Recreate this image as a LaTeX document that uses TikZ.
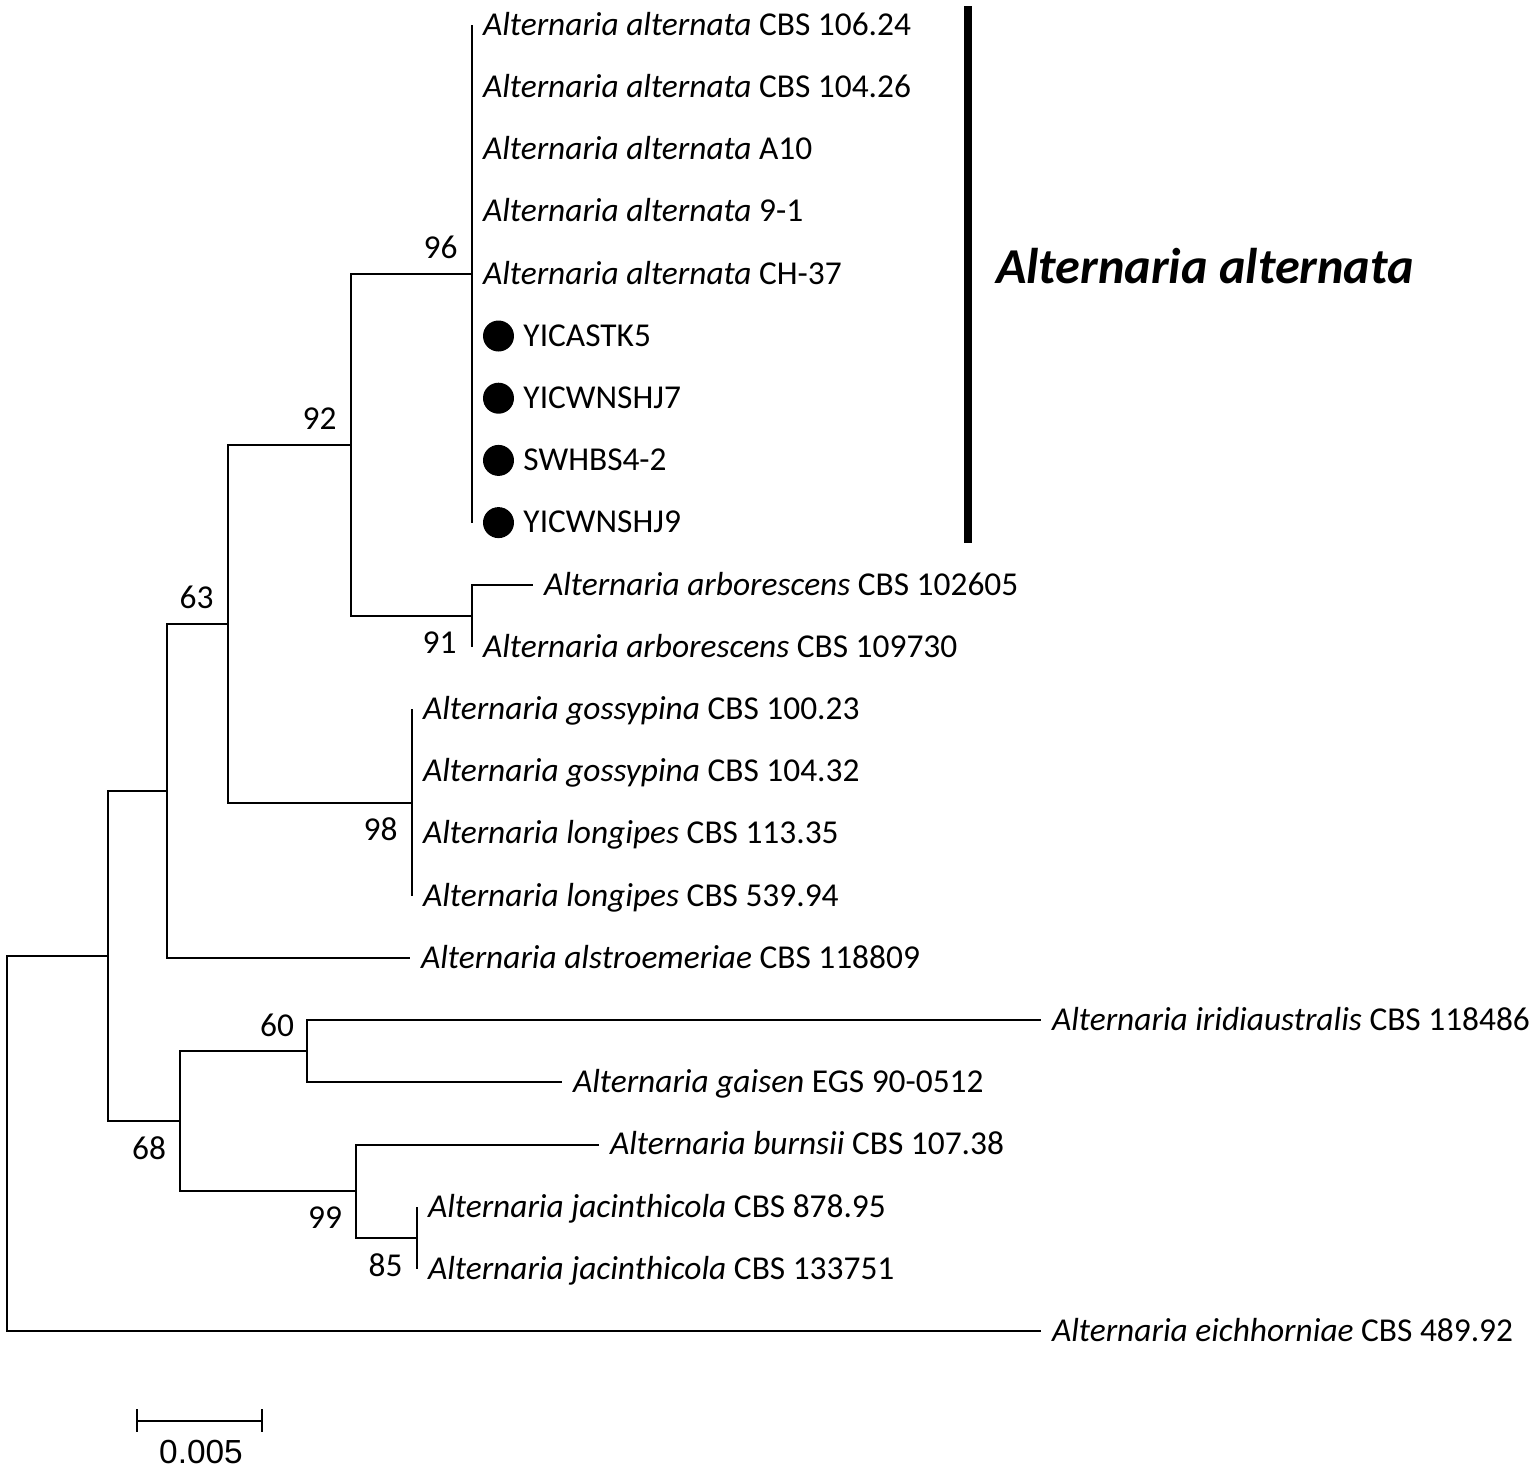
\documentclass[tikz,border=0pt]{standalone}
\usepackage{fontspec}
\setmainfont{Carlito}
\newfontfamily\barlabelfont{Liberation Sans}
\usetikzlibrary{positioning}

\begin{document}
\begin{tikzpicture}[x=0.02cm, y=-0.02cm, line width=0.04cm,
	tip/.style={anchor=west, inner xsep=0.2cm, inner ysep=0pt, text height=0.54cm, text depth=0.13cm, font=\fontsize{19}{21}\selectfont},
	boot/.style={inner sep=0pt, font=\fontsize{19}{21}\selectfont},
	isolate/.style={circle, fill=black, inner sep=0pt, minimum size=0.62cm}]
	\useasboundingbox (0,0) rectangle (1535,1471);

	% Internal nodes of the tree
	\coordinate (n96) at (472,273.8);
	\coordinate (n91) at (472,615.9);
	\coordinate (n92) at (351,444.9);
	\coordinate (n98) at (412,802.5);
	\coordinate (n63) at (228,623.7);
	\coordinate (nal) at (167,790.9);
	\coordinate (n60) at (307,1051.3);
	\coordinate (n85) at (417,1237.9);
	\coordinate (n99) at (356,1191.3);
	\coordinate (n68) at (180,1121.3);
	\coordinate (nin) at (108,956.1);
	\coordinate (root) at (7,1143.6);

	% Tips with their labels
	\node[tip] (t1) at (472,25) {\textit{Alternaria alternata} CBS 106.24};
	\node[tip] (t2) at (472,87.2) {\textit{Alternaria alternata} CBS 104.26};
	\node[tip] (t3) at (472,149.4) {\textit{Alternaria alternata} A10};
	\node[tip] (t4) at (472,211.6) {\textit{Alternaria alternata} 9-1};
	\node[tip] (t5) at (472,273.8) {\textit{Alternaria alternata} CH-37};
	\coordinate (v6) at (472,336);
	\coordinate (v7) at (472,398.2);
	\coordinate (v8) at (472,460.4);
	\coordinate (v9) at (472,522.6);
	\node[isolate, right=0.2cm of v6] (d6) {};
	\node[isolate, right=0.2cm of v7] (d7) {};
	\node[isolate, right=0.2cm of v8] (d8) {};
	\node[isolate, right=0.2cm of v9] (d9) {};
	\node[tip, right=-0.05cm of d6] (t6) {YICASTK5};
	\node[tip, right=-0.05cm of d7] (t7) {YICWNSHJ7};
	\node[tip, right=-0.05cm of d8] (t8) {SWHBS4-2};
	\node[tip, right=-0.05cm of d9] (t9) {YICWNSHJ9};
	\node[tip] (t10) at (533,584.8) {\textit{Alternaria arborescens} CBS 102605};
	\node[tip] (t11) at (472,647) {\textit{Alternaria arborescens} CBS 109730};
	\node[tip] (t12) at (412,709.2) {\textit{Alternaria gossypina} CBS 100.23};
	\node[tip] (t13) at (412,771.4) {\textit{Alternaria gossypina} CBS 104.32};
	\node[tip] (t14) at (412,833.6) {\textit{Alternaria longipes} CBS 113.35};
	\node[tip] (t15) at (412,895.8) {\textit{Alternaria longipes} CBS 539.94};
	\node[tip] (t16) at (410,958) {\textit{Alternaria alstroemeriae} CBS 118809};
	\node[tip] (t17) at (1041,1020.2) {\textit{Alternaria iridiaustralis} CBS 118486};
	\node[tip] (t18) at (562,1082.4) {\textit{Alternaria gaisen} EGS 90-0512};
	\node[tip] (t19) at (599,1144.6) {\textit{Alternaria burnsii} CBS 107.38};
	\node[tip] (t20) at (417,1206.8) {\textit{Alternaria jacinthicola} CBS 878.95};
	\node[tip] (t21) at (417,1269) {\textit{Alternaria jacinthicola} CBS 133751};
	\node[tip] (t22) at (1041,1331.2) {\textit{Alternaria eichhorniae} CBS 489.92};

	% Branches
	\draw (n96) |- (t1.west);
	\draw (n96) |- (t2.west);
	\draw (n96) |- (t3.west);
	\draw (n96) |- (t4.west);
	\draw (n96) |- (t5.west);
	\draw (n96) |- (v6);
	\draw (n96) |- (v7);
	\draw (n96) |- (v8);
	\draw (n96) |- (v9);
	\draw (n91) |- (t10.west);
	\draw (n91) |- (t11.west);
	\draw (n92) |- (n96);
	\draw (n92) |- (n91);
	\draw (n98) |- (t12.west);
	\draw (n98) |- (t13.west);
	\draw (n98) |- (t14.west);
	\draw (n98) |- (t15.west);
	\draw (n63) |- (n92);
	\draw (n63) |- (n98);
	\draw (nal) |- (n63);
	\draw (nal) |- (t16.west);
	\draw (n60) |- (t17.west);
	\draw (n60) |- (t18.west);
	\draw (n85) |- (t20.west);
	\draw (n85) |- (t21.west);
	\draw (n99) |- (t19.west);
	\draw (n99) |- (n85);
	\draw (n68) |- (n60);
	\draw (n68) |- (n99);
	\draw (nin) |- (nal);
	\draw (nin) |- (n68);
	\draw (root) |- (nin);
	\draw (root) |- (t22.west);

	% Bootstrap values
	\node[boot, above left=0.28cm and 0.27cm of n96] (b96) {96};
	\node[boot, above left=0.28cm and 0.27cm of n92] (b92) {92};
	\node[boot, above left=0.28cm and 0.27cm of n63] (b63) {63};
	\node[boot, below left=0.29cm and 0.29cm of n91] (b91) {91};
	\node[boot, below left=0.29cm and 0.27cm of n98] (b98) {98};
	\node[boot, above left=0.28cm and 0.24cm of n60] (b60) {60};
	\node[boot, below left=0.29cm and 0.26cm of n68] (b68) {68};
	\node[boot, below left=0.29cm and 0.26cm of n99] (b99) {99};
	\node[boot, below left=0.29cm and 0.27cm of n85] (b85) {85};

	% Clade bar and name
	\coordinate (bartop) at (968,6);
	\coordinate (barbot) at (968,543);
	\draw[line width=0.15cm] (bartop) -- (barbot);
	\node[anchor=base west, inner sep=0pt, font=\fontsize{28.6}{31}\selectfont\bfseries\itshape] (clade) at (995,283) {Alternaria alternata};

	% Scale bar
	\coordinate (sbl) at (137,1421);
	\coordinate (sbr) at (262,1421);
	\draw (sbl) -- (sbr);
	\draw (137,1409) -- (137,1432);
	\draw (262,1409) -- (262,1432);
	\node[anchor=base, inner sep=0pt, font=\barlabelfont\fontsize{19}{21}\selectfont] (sclab) at (201,1463) {0.005};
\end{tikzpicture}
\end{document}
